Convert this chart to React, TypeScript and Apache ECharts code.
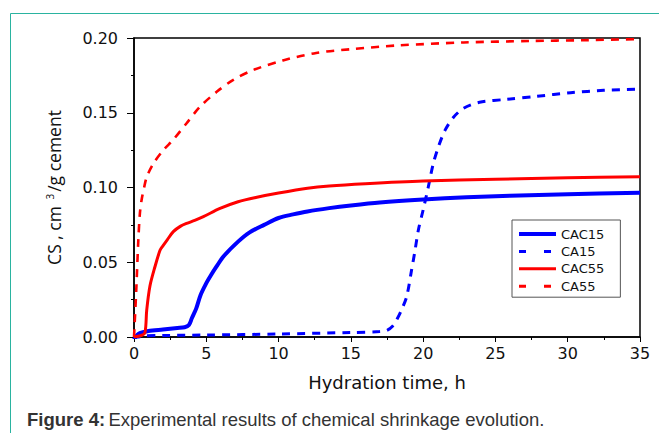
import React, { useEffect, useRef } from "react";
import * as echarts from "echarts";

const xTicks = [0, 5, 10, 15, 20, 25, 30, 35];
const yTicks = [0, 0.05, 0.1, 0.15, 0.2];

const CAC15_t = [0, 0.3, 1, 2, 3, 3.5, 3.8, 4.0, 4.3, 4.6, 5.0, 5.3, 5.7, 6.2, 7.2, 8, 9, 10, 11, 12, 13.5, 15, 17, 20, 23, 26, 30, 35];
const CAC15_v = [-0.002, 0.002, 0.004, 0.005, 0.006, 0.0065, 0.008, 0.0125, 0.019, 0.028, 0.036, 0.041, 0.047, 0.054, 0.0638, 0.07, 0.075, 0.0796, 0.082, 0.084, 0.0862, 0.088, 0.09, 0.092, 0.0935, 0.0945, 0.0955, 0.0965];

const CA15_t = [0, 0.5, 2, 5, 10, 15, 17, 17.5, 17.9, 18.2, 18.5, 18.86, 19.2, 19.44, 19.67, 20.0, 20.36, 20.7, 21.05, 21.5, 22.1, 22.8, 23.9, 25.8, 27.85, 30.2, 32.5, 35];
const CA15_v = [-0.003, 0.0005, 0.001, 0.0013, 0.002, 0.003, 0.0036, 0.0045, 0.0074, 0.012, 0.018, 0.027, 0.0448, 0.058, 0.0716, 0.085, 0.1005, 0.116, 0.127, 0.138, 0.147, 0.153, 0.157, 0.159, 0.161, 0.1634, 0.165, 0.1658];

const CAC55_t = [0, 0.5, 0.76, 0.88, 1.1, 1.45, 1.8, 2.0, 2.3, 2.72, 3.2, 3.64, 4.2, 4.8, 5.95, 7.2, 8.5, 10, 12, 13.5, 16, 20, 25, 30, 35];
const CAC55_v = [0, 0.001, 0.003, 0.018, 0.034, 0.047, 0.058, 0.061, 0.065, 0.0705, 0.074, 0.076, 0.078, 0.0805, 0.086, 0.0905, 0.0935, 0.0963, 0.0995, 0.101, 0.1025, 0.1043, 0.1055, 0.1065, 0.1072];

const CA55_t = [0, 0.15, 0.3, 0.41, 0.53, 0.7, 0.88, 1.34, 2.03, 2.72, 3.64, 4.56, 5.72, 6.87, 8.25, 10.3, 12.6, 15, 18.2, 22.8, 27.4, 31, 35];
const CA55_v = [0, 0.03, 0.065, 0.083, 0.092, 0.1, 0.107, 0.116, 0.125, 0.132, 0.143, 0.154, 0.164, 0.172, 0.1786, 0.185, 0.19, 0.1925, 0.195, 0.197, 0.198, 0.1985, 0.1993];

const seriesNames = ["CAC15", "CA15", "CAC55", "CA55"];

const zip = (t: number[], v: number[]) => t.map((x, i) => [x, v[i]]);

export default function App() {
  const ref = useRef<HTMLDivElement>(null);
  useEffect(() => {
    if (!ref.current) return;
    const chart = echarts.init(ref.current, null, { renderer: "svg" });
    const tickFont = "DejaVu Sans";
    const legendDash = [7, 18];
    chart.setOption({
      animation: false,
      backgroundColor: "#ffffff",
      grid: {
        left: 134,
        top: 38,
        right: 19,
        bottom: 96,
        show: true,
        borderColor: "#000",
        borderWidth: 1.5,
        backgroundColor: "transparent",
      },
      legend: {
        orient: "vertical",
        left: 512,
        top: 220,
        data: [
          { name: seriesNames[0], lineStyle: { width: 4, type: "solid", color: "#0000ff" } },
          { name: seriesNames[1], lineStyle: { width: 3, color: "#0000ff" } },
          { name: seriesNames[2], lineStyle: { width: 3, type: "solid", color: "#ff0000" } },
          { name: seriesNames[3], lineStyle: { width: 3, color: "#ff0000" } },
        ],
        lineStyle: { type: legendDash },
        itemWidth: 37,
        itemHeight: 14,
        itemGap: 3.4,
        padding: [7, 16, 4, 5],
        borderColor: "#555",
        borderWidth: 1,
        backgroundColor: "#fff",
        itemStyle: { opacity: 0 },
        textStyle: { fontFamily: "DejaVu Sans", fontSize: 13, color: "#111", lineHeight: 14 },
      },
      xAxis: {
        type: "value",
        min: 0,
        max: 35,
        interval: 5,
        name: "Hydration time, h",
        nameLocation: "middle",
        nameGap: 36,
        nameTextStyle: { fontFamily: tickFont, fontSize: 18, color: "#111" },
        axisLine: { onZero: false, lineStyle: { color: "#000", width: 1.5 } },
        axisTick: { show: true, inside: false, length: 5, lineStyle: { color: "#000", width: 1 } },
        minorTick: { show: true, splitNumber: 2, length: 3, lineStyle: { color: "#000", width: 1 } },
        axisLabel: { fontFamily: tickFont, fontSize: 16, color: "#111", margin: 8, formatter: (v: number) => (xTicks.includes(v) ? String(v) : "") },
        splitLine: { show: false },
      },
      yAxis: {
        type: "value",
        min: 0,
        max: 0.2,
        interval: 0.05,
        name: "{a|CS , cm }{s|3}{a|/g cement}",
        nameLocation: "middle",
        nameGap: 71,
        nameRotate: 90,
        nameTextStyle: {
          rich: {
            a: { fontFamily: "Open Sans", fontSize: 17.5, color: "#111" },
            s: { fontFamily: "Open Sans", fontSize: 10, color: "#111", verticalAlign: "top", padding: [0, 2, 0, 2] },
          },
        },
        axisLine: { onZero: false, lineStyle: { color: "#000", width: 1.5 } },
        axisTick: { show: true, inside: false, length: 7, lineStyle: { color: "#000", width: 1 } },
        minorTick: { show: true, splitNumber: 2, length: 3, lineStyle: { color: "#000", width: 1 } },
        axisLabel: {
          fontFamily: tickFont,
          fontSize: 16,
          color: "#111",
          margin: 16,
          formatter: (v: number) => {
            const m = yTicks.find((t) => Math.abs(t - v) < 1e-9);
            return m === undefined ? "" : m.toFixed(2);
          },
        },
        splitLine: { show: false },
      },
      series: [
        {
          name: "CAC15",
          type: "line",
          data: zip(CAC15_t, CAC15_v),
          symbol: "none",
          smooth: 0.3,
          lineStyle: { color: "#0000ff", width: 4, type: "solid" },
          itemStyle: { color: "#0000ff" },
        },
        {
          name: "CA15",
          type: "line",
          data: zip(CA15_t, CA15_v),
          symbol: "none",
          smooth: 0.3,
          lineStyle: { color: "#0000ff", width: 3, type: [8, 7] },
          itemStyle: { color: "#0000ff" },
        },
        {
          name: "CAC55",
          type: "line",
          data: zip(CAC55_t, CAC55_v),
          symbol: "none",
          smooth: 0.3,
          lineStyle: { color: "#ff0000", width: 3, type: "solid" },
          itemStyle: { color: "#ff0000" },
        },
        {
          name: "CA55",
          type: "line",
          data: zip(CA55_t, CA55_v),
          symbol: "none",
          smooth: 0.3,
          lineStyle: { color: "#ff0000", width: 2.6, type: [8, 7] },
          itemStyle: { color: "#ff0000" },
        },
      ],
      graphic: [
        { type: "line", shape: { x1: 10.5, y1: 13.5, x2: 700, y2: 13.5 }, style: { stroke: "#2ab3a0", lineWidth: 1 }, silent: true },
        { type: "line", shape: { x1: 10.5, y1: 13.5, x2: 10.5, y2: 440 }, style: { stroke: "#2ab3a0", lineWidth: 1 }, silent: true },
        {
          type: "text",
          left: 27,
          top: 410,
          style: {
            text: "{b|Figure 4:} {n|Experimental results of chemical shrinkage evolution.}",
            rich: {
              b: { fontFamily: "Liberation Sans", fontWeight: "bold", fontSize: 18.5, fill: "#333" },
              n: { fontFamily: "Liberation Sans", fontSize: 18.5, fill: "#333" },
            },
          },
        },
      ],
    });
    return () => chart.dispose();
  }, []);
  return <div ref={ref} style={{ position: "fixed", left: 0, top: 0, width: 659, height: 433 }} />;
}
